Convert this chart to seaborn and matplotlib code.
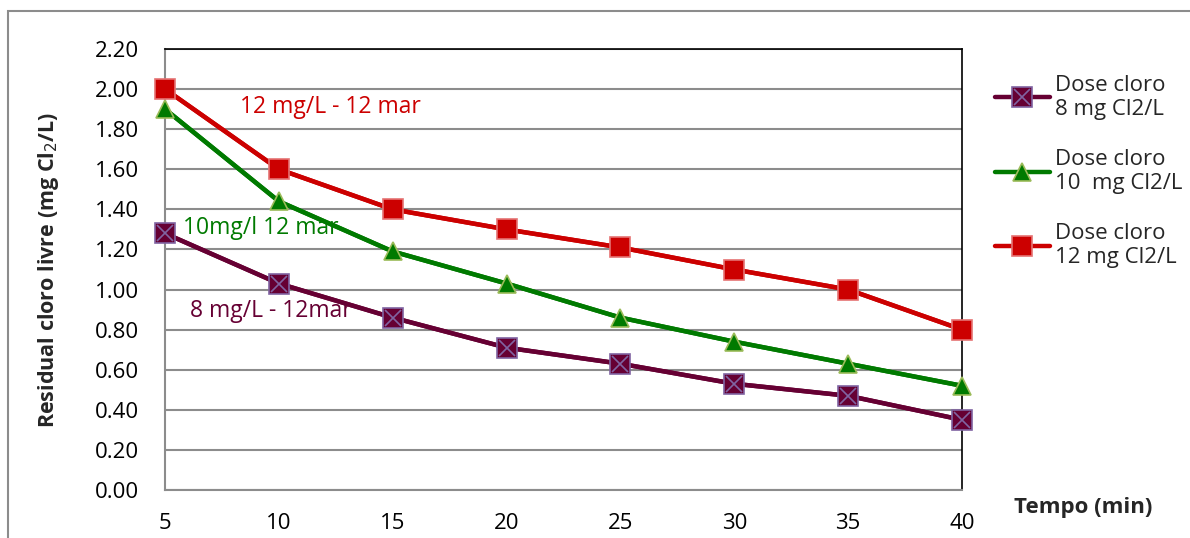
import numpy as np
import matplotlib
matplotlib.use("Agg")
import matplotlib.pyplot as plt
import pandas as pd
import seaborn as sns
from matplotlib.patches import Rectangle
from matplotlib.legend_handler import HandlerTuple

sns.set_theme(style="white")
plt.rcParams['font.family'] = ['Open Sans', 'DejaVu Sans']

# data
tempo = [5, 10, 15, 20, 25, 30, 35, 40]
dose_8 = [1.28, 1.03, 0.86, 0.71, 0.63, 0.53, 0.47, 0.35]
dose_10 = [1.90, 1.44, 1.19, 1.03, 0.86, 0.74, 0.63, 0.52]
dose_12 = [2.00, 1.60, 1.40, 1.30, 1.21, 1.10, 1.00, 0.80]
labels = ["Dose cloro\n8 mg Cl2/L", "Dose cloro\n10  mg Cl2/L", "Dose cloro\n12 mg Cl2/L"]

df = pd.DataFrame({"tempo": tempo * 3,
                   "residual": dose_8 + dose_10 + dose_12,
                   "serie": np.repeat(labels, len(tempo))})

styles = {
    labels[0]: dict(color="#660033", marker="s", mfc="#660033", mec="#8064A2"),
    labels[1]: dict(color="#007A00", marker="^", mfc="#007A00", mec="#9BBB59"),
    labels[2]: dict(color="#CC0000", marker="s", mfc="#CC0000", mec="#E57373"),
}

fig = plt.figure(figsize=(11.9, 5.38), dpi=100)
ax = fig.add_axes([0.1387, 0.0892, 0.8084 - 0.1387, 0.9089 - 0.0892])

# outer chart frame
fig.patches.append(Rectangle((8 / 1190, -0.1), 1.2, 1 - 11 / 538 + 0.1,
                             transform=fig.transFigure, fill=False,
                             edgecolor="#8c8c8c", lw=1.5, zorder=0))

sns.lineplot(data=df, x="tempo", y="residual", hue="serie",
             palette={k: v["color"] for k, v in styles.items()},
             linewidth=3.2, legend=False, ax=ax)

handles = []
for lab in labels:
    s = styles[lab]
    sub = df[df["serie"] == lab]
    h, = ax.plot(sub["tempo"], sub["residual"], linestyle="-", lw=3.2, color=s["color"],
                 marker=s["marker"], markersize=14 if s["marker"] == "s" else 13,
                 markerfacecolor=s["mfc"], markeredgecolor=s["mec"],
                 markeredgewidth=1.2, clip_on=False, zorder=5, label=lab)
    if lab == labels[0]:
        xh, = ax.plot(sub["tempo"], sub["residual"], linestyle="none", marker="x",
                      markersize=12, markeredgecolor="#8064A2", markeredgewidth=1.2,
                      clip_on=False, zorder=6)
        handles.append((h, xh))
    else:
        handles.append(h)

ax.set_xlim(5, 40)
ax.set_ylim(0, 2.2)
ax.set_xticks(tempo)
ax.set_yticks(np.arange(0, 2.21, 0.2))
ax.set_yticklabels([f"{v:.2f}" for v in np.arange(0, 2.21, 0.2)])
ax.yaxis.grid(True, color="#8c8c8c", lw=1.5)
ax.xaxis.grid(False)

for side in ["top", "right"]:
    ax.spines[side].set_color("black")
    ax.spines[side].set_linewidth(1.2)
for side in ["left", "bottom"]:
    ax.spines[side].set_color("#8c8c8c")
    ax.spines[side].set_linewidth(1.5)

ax.tick_params(axis="both", which="both", direction="out", length=4.5, width=1.2,
               color="#8c8c8c", labelsize=16, labelcolor="black")
ax.tick_params(axis="y", pad=14)
ax.tick_params(axis="x", pad=12)

ax.set_ylabel("Residual cloro livre (mg Cl$_2$/L)", fontsize=15.5, fontweight="bold")
ax.yaxis.set_label_coords(-0.130, 0.5)
ax.set_xlabel("")
fig.text(1083 / 1190, 1 - 507 / 538, "Tempo (min)", fontsize=16, fontweight="bold",
         ha="center", va="center")

ax.text(8.29, 1.91, "12 mg/L - 12 mar", color="#CC0000", fontsize=16.5, ha="left", va="center")
t10 = ax.text(5.79, 1.275, "10mg/l 12 mar", color="#007A00", fontsize=16.5, ha="left",
              va="baseline")
t10.set_clip_path(Rectangle((5.5, 1.283), 10, 0.5, transform=ax.transData))
ax.text(6.1, 0.893, "8 mg/L - 12mar", color="#660033", fontsize=16.5, ha="left", va="center")

leg = ax.legend(handles=handles, labels=labels, loc="upper left",
                bbox_to_anchor=(1.041, 0.942), frameon=False, fontsize=16,
                handlelength=2.5, handletextpad=0.2, labelspacing=1.3,
                borderaxespad=0, borderpad=0,
                handler_map={tuple: HandlerTuple(ndivide=1, pad=0)})

plt.savefig("out.png", dpi=100)
